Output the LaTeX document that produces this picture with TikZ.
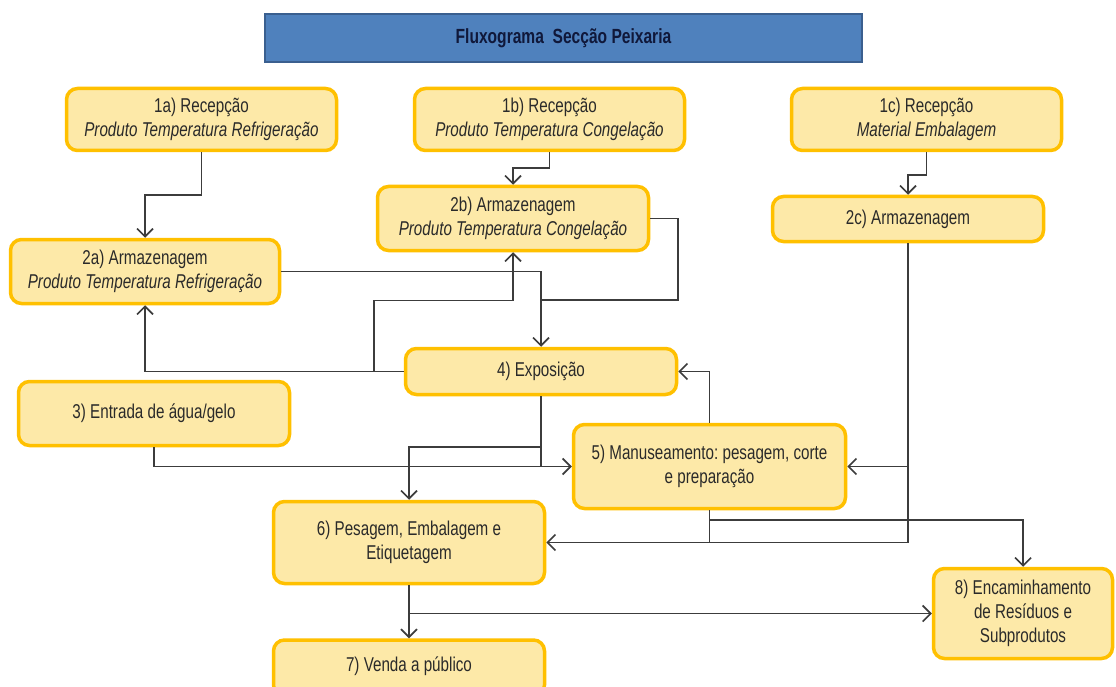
\documentclass[tikz,border=0pt]{standalone}
\usepackage{fontspec}
\setmainfont{Liberation Sans}[FakeStretch=0.76]
\usetikzlibrary{arrows.meta}
\frenchspacing
\definecolor{boxfill}{HTML}{FDE9A8}
\definecolor{boxline}{HTML}{FFC000}
\definecolor{titlefill}{HTML}{4F81BD}
\definecolor{titleline}{HTML}{3A5F8F}
\definecolor{titletext}{HTML}{10183A}
\definecolor{ink}{HTML}{2A2A2A}
\definecolor{wire}{HTML}{3C3C3C}
\tikzset{
  stepbox/.style={draw=boxline, fill=boxfill, line width=3.5pt, rounded corners=11pt,
    align=center, text=ink, inner sep=0pt,
    font=\fontsize{20}{24}\selectfont},
  titlebox/.style={draw=titleline, fill=titlefill, line width=2pt,
    text=titletext, font=\fontsize{20.5}{22}\selectfont\bfseries},
  wireline/.style={draw=wire, line width=1.6pt},
  arr/.style={wireline, -{Straight Barb[length=8pt,width=16pt,line width=1.6pt]}},
}
\begin{document}
\begin{tikzpicture}[x=1pt,y=-1pt]
\clip (0,0) rectangle (1116,687);
\fill[white] (0,0) rectangle (1116,687);

% title bar
\node[titlebox, minimum width=597pt, minimum height=48pt] (title) at (563.5,38) {Fluxograma\ \ Secção Peixaria};

% process steps
\node[stepbox, minimum width=270pt, minimum height=62pt] (n1a) at (201.5,119.5)
  {1a) Recepção\\\textit{Produto Temperatura Refrigeração}};
\node[stepbox, minimum width=270pt, minimum height=62pt] (n1b) at (549.5,119.5)
  {1b) Recepção\\\textit{Produto Temperatura Congelação}};
\node[stepbox, minimum width=270pt, minimum height=62pt] (n1c) at (926.5,119.5)
  {1c) Recepção\\\textit{Material Embalagem}};
\node[stepbox, minimum width=271pt, minimum height=64pt] (n2b) at (513,218.5)
  {2b) Armazenagem\\\textit{Produto Temperatura Congelação}};
\node[stepbox, minimum width=269pt, minimum height=64pt] (n2a) at (145,271.5)
  {2a) Armazenagem\\\textit{Produto Temperatura Refrigeração}};
\node[stepbox, minimum width=271pt, minimum height=45pt] (n2c) at (908,219)
  {2c) Armazenagem};
\node[stepbox, minimum width=271pt, minimum height=46pt] (n4) at (541,371.5)
  {4) Exposição};
\node[stepbox, minimum width=271pt, minimum height=64pt] (n3) at (154,413.5)
  {3) Entrada de água/gelo};
\node[stepbox, minimum width=272pt, minimum height=84pt] (n5) at (709.5,466.5)
  {5) Manuseamento: pesagem, corte\\e preparação};
\node[stepbox, minimum width=271pt, minimum height=82pt] (n6) at (409,542.5)
  {6) Pesagem, Embalagem e\\Etiquetagem};
\node[stepbox, minimum width=179pt, minimum height=90pt] (n8) at (1023,613.5)
  {8) Encaminhamento\\de Resíduos e\\Subprodutos};
\node[stepbox, minimum width=271pt, minimum height=56pt] (n7) at (409,668)
  {\raisebox{7pt}{7) Venda a público}};

% junction points
\coordinate (j2b) at (541,300);

% connectors
\draw[arr] (n1a.south) -- ++(0,43) -| (n2a.north);
\draw[arr] (n1b.south) -- ++(0,16) -| (n2b.north);
\draw[arr] (n1c.south) -- ++(0,23) -| (n2c.north);
\draw[arr] (n2a.east) -| (n4.north);
\draw[wireline] (n2b.east) -- ++(28,0) |- (j2b);
\draw[arr] (n4.west) -| (n2a.south);
\draw[arr] (n4.west) -- ++(-30,0) -- ++(0,-71) -| (n2b.south);
\draw[arr] (n3.south) |- (n5.west);
\draw[wireline] (n4.south) -- (n4.south |- n5.west);
\draw[arr] (n4.south) -- ++(0,51) -| (n6.north);
\draw[arr] (n5.north) |- (n4.east);
\draw[arr] (n2c.south) |- (n5.east);
\draw[arr] (n2c.south) |- (n6.east);
\draw[wireline] (n5.south) -- (n5.south |- n6.east);
\draw[arr] (n5.south) -- ++(0,10) -| (n8.north);
\draw[arr] (n6.south) -- (n7.north);
\draw[arr] (n6.south) |- (n8.west);
\end{tikzpicture}
\end{document}
